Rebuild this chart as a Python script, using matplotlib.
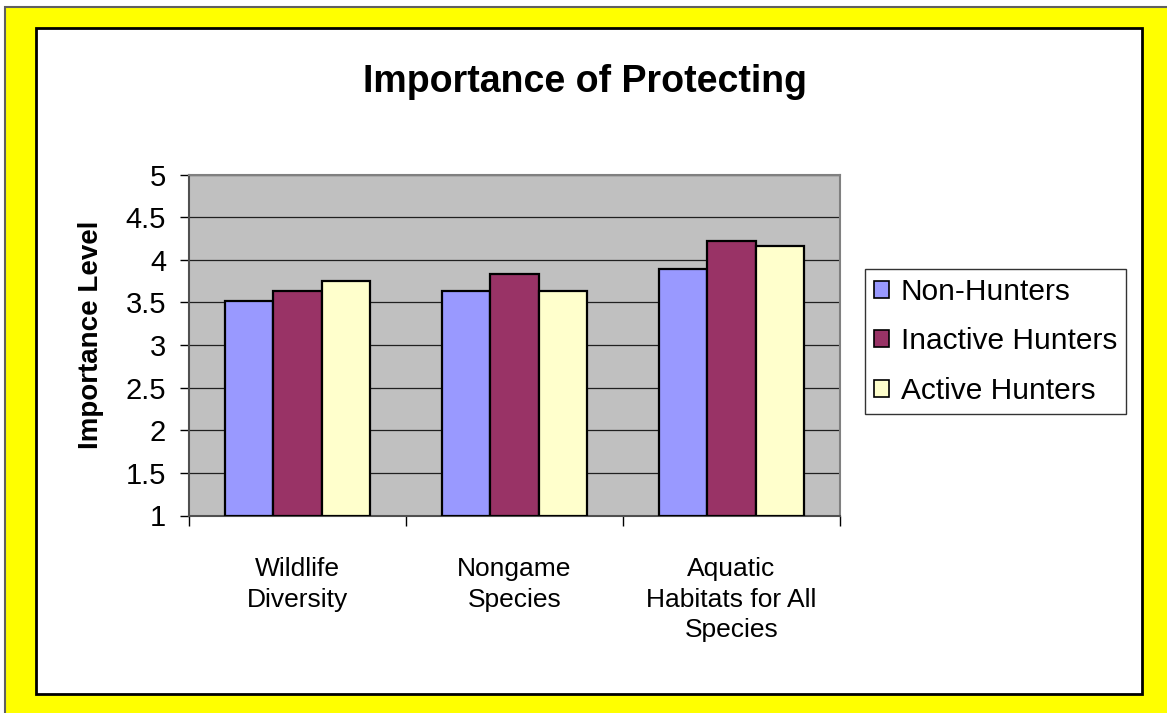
import matplotlib
matplotlib.use("Agg")
import matplotlib.pyplot as plt
from matplotlib.patches import Rectangle, Patch
import numpy as np

plt.rcParams['font.family'] = ['Liberation Sans', 'DejaVu Sans']

# Survey results: mean importance rating by hunter group
categories = ["Wildlife\nDiversity", "Nongame\nSpecies", "Aquatic\nHabitats for All\nSpecies"]
non_hunters = [3.52, 3.63, 3.89]
inactive_hunters = [3.63, 3.83, 4.22]
active_hunters = [3.75, 3.63, 4.16]
series_names = ["Non-Hunters", "Inactive Hunters", "Active Hunters"]
series_colors = ["#9999FF", "#993366", "#FFFFCC"]
y_ticks = [1, 1.5, 2, 2.5, 3, 3.5, 4, 4.5, 5]
y_tick_labels = ["1", "1.5", "2", "2.5", "3", "3.5", "4", "4.5", "5"]

W, H = 1167, 713
fig = plt.figure(figsize=(W / 100, H / 100), dpi=100)
fig.patch.set_facecolor("white")

# Yellow backdrop with gray outline, then white chart area with black border
fig.patches.append(Rectangle((5 / W, -0.05), 1.1, (H - 7) / H + 0.05,
                             transform=fig.transFigure, facecolor="#FFFF00",
                             edgecolor="#606060", linewidth=1.5, zorder=0))
fig.patches.append(Rectangle((36 / W, 19 / H), (1142 - 36) / W, (694 - 28) / H,
                             transform=fig.transFigure, facecolor="white",
                             edgecolor="black", linewidth=2, zorder=1))

ax = fig.add_axes([189 / W, 1 - 515.5 / H, (840 - 189) / W, (515.5 - 174.5) / H])
ax.set_zorder(2)
ax.set_facecolor("#C0C0C0")

x = np.arange(len(categories))
bw = 0.2226
for i, (vals, name, col) in enumerate(zip([non_hunters, inactive_hunters, active_hunters],
                                          series_names, series_colors)):
    ax.bar(x + (i - 1) * bw, np.array(vals) - 1, bottom=1, width=bw, color=col,
           edgecolor="black", linewidth=1.6, label=name, zorder=3)

ax.set_xlim(-0.5, 2.5)
ax.set_ylim(1, 5)
ax.set_yticks(y_ticks)
ax.set_yticklabels(y_tick_labels, fontsize=21)
ax.yaxis.grid(True, color="#202020", linewidth=0.9, zorder=1)
ax.set_axisbelow(True)

ax.set_xticks(x)
ax.set_xticklabels(categories, fontsize=19, linespacing=1.35)
ax.set_xticks([-0.5, 0.5, 1.5, 2.5], minor=True)
ax.tick_params(axis="x", which="major", length=0, pad=30)
ax.tick_params(axis="x", which="minor", length=7.5, width=1, direction="out", color="black")
ax.tick_params(axis="y", length=6.5, width=1, direction="out", color="black", pad=10)

for s in ["top", "right"]:
    ax.spines[s].set_color("#808080")
    ax.spines[s].set_linewidth(1.5)
for s in ["left", "bottom"]:
    ax.spines[s].set_color("#505050")
    ax.spines[s].set_linewidth(1.5)

fig.text(585 / W, 1 - 91.7 / H, "Importance of Protecting", fontsize=27,
         fontweight="bold", ha="center", va="baseline", zorder=5)
fig.text(91 / W, 1 - 334.5 / H, "Importance Level", fontsize=20, fontweight="bold",
         rotation=90, ha="center", va="center", zorder=5)

handles = [Patch(facecolor=c, edgecolor="black", linewidth=1.2) for c in series_colors]
leg = fig.legend(handles, series_names, loc="upper left",
                 bbox_to_anchor=(865 / W, 1 - 269 / H), bbox_transform=fig.transFigure,
                 fontsize=21.5, frameon=True, fancybox=False, shadow=False,
                 borderaxespad=0, borderpad=0.3, handlelength=0.5, handleheight=0.5,
                 handletextpad=0.4, labelspacing=0.72)
leg.get_frame().set_edgecolor("black")
leg.get_frame().set_linewidth(1.0)
leg.set_zorder(6)

fig.savefig("out.png", dpi=100, facecolor=fig.get_facecolor())
